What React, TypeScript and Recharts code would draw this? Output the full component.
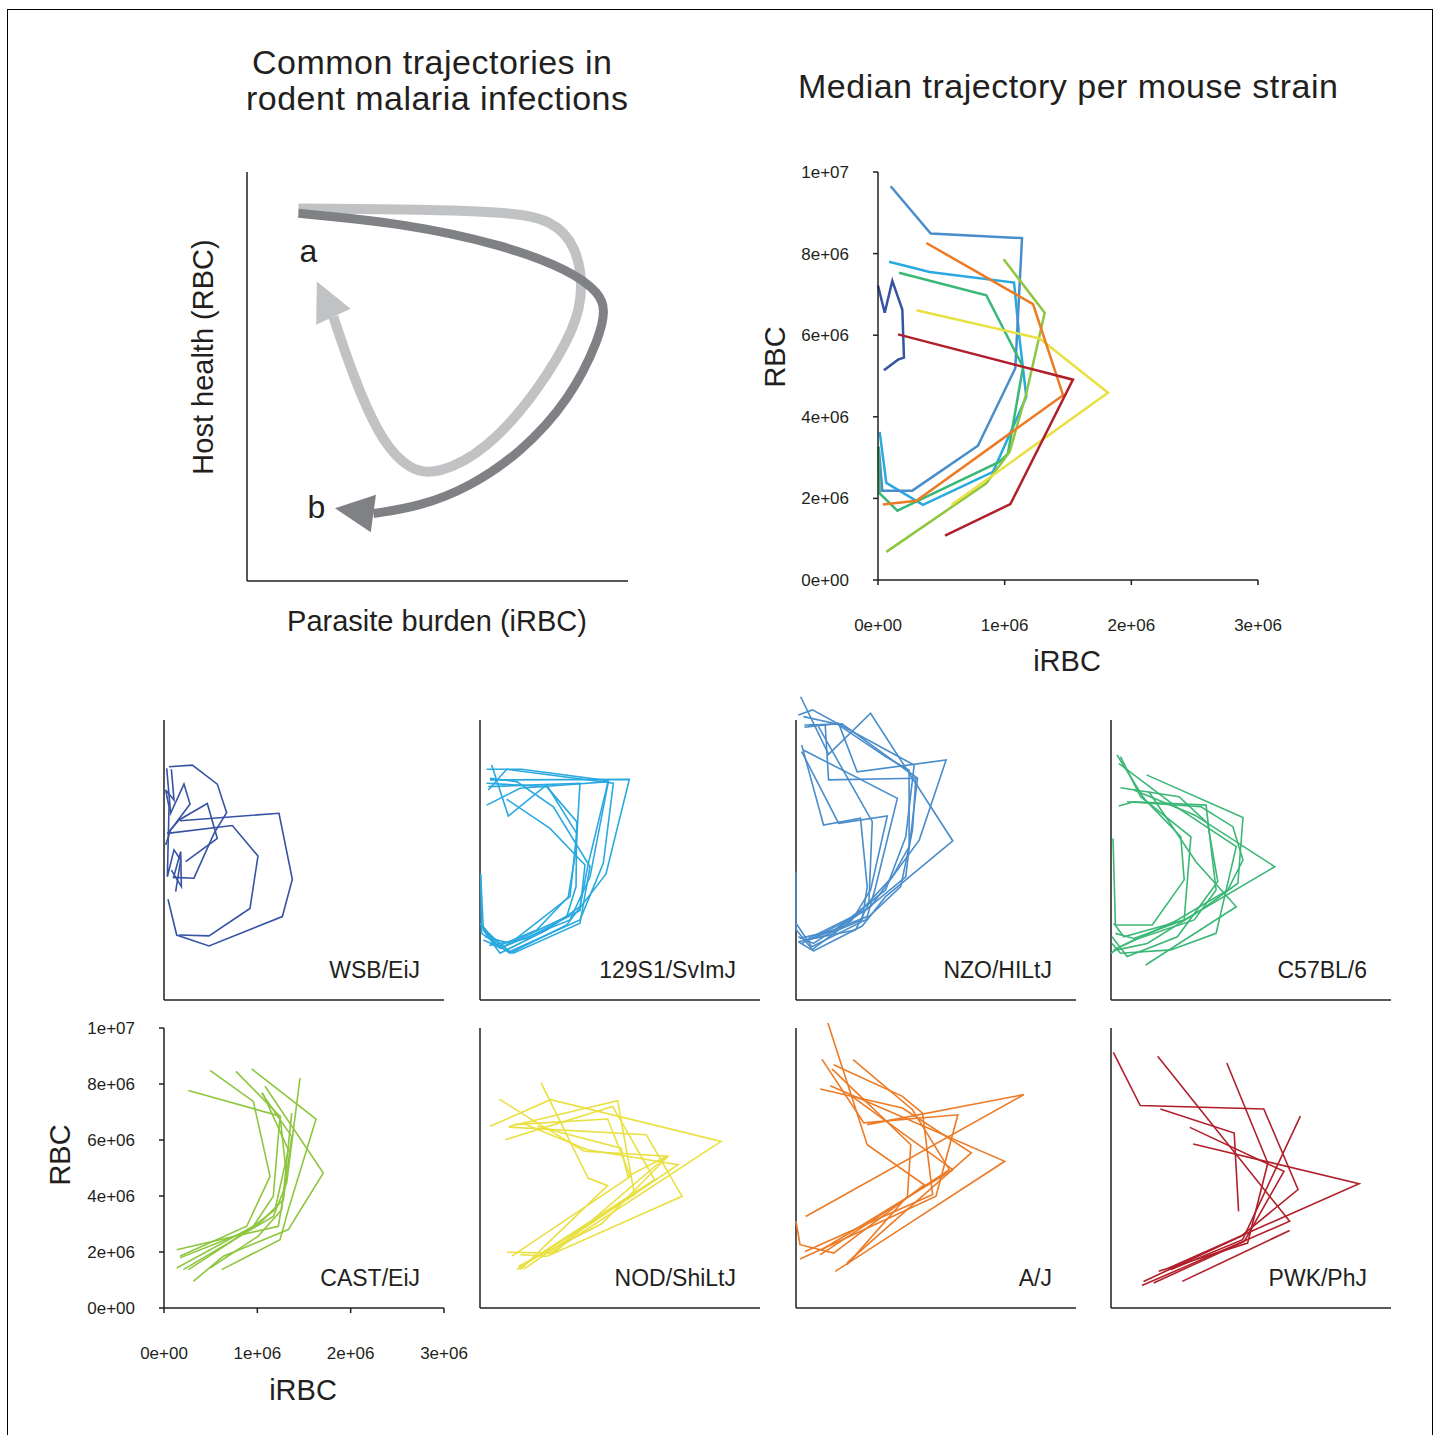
import React from "react";
import { LineChart, Line, XAxis, YAxis, ReferenceLine } from "recharts";

type Pt = [number, number];

const INK = "#231f20";
const FONT = "'Liberation Sans', Arial, Helvetica, sans-serif";

// iRBC / RBC in millions
const X_TICKS = [0, 1, 2, 3];
const Y_TICKS = [0, 2, 4, 6, 8, 10];

const C_WSB = "#3754a4";
const C_129 = "#2aa9e0";
const C_NZO = "#4a8dcb";
const C_B6 = "#3bb776";
const C_CAST = "#8ec63f";
const C_NOD = "#e9e042";
const C_AJ = "#ed7a24";
const C_PWK = "#b01f2a";

// concept sketch (arbitrary units)
const LIGHT_PATH: Pt[] = [
  [16.2, 91.1], [80.7, 90.7], [96.5, 88.3], [103.8, 81.7], [105.9, 71.9], [103.8, 62.2],
  [91.2, 45.9], [75.5, 32.0], [59.7, 25.9], [51.3, 27.1], [42.9, 33.7], [35.6, 45.9],
  [30.3, 57.3], [27.2, 64.6],
];
const LIGHT_ARROW: Pt[] = [[27.2, 64.6], [22.0, 73.2]];
const DARK_PATH: Pt[] = [
  [16.2, 89.9], [49.2, 87.5], [80.7, 82.2], [101.7, 76.0], [111.2, 70.3], [112.8, 66.3],
  [111.2, 59.7], [101.7, 44.3], [86.0, 31.2], [70.2, 23.0], [54.5, 18.2], [39.8, 16.5],
];
const DARK_ARROW: Pt[] = [[39.8, 16.5], [27.7, 17.8]];

// median trajectories
const MED_WSB: Pt[] = [[0, 7.22], [0.053, 6.55], [0.113, 7.33], [0.192, 6.63], [0.205, 5.45], [0.158, 5.4], [0.047, 5.14]];
const MED_129: Pt[] = [[0.087, 7.8], [0.408, 7.55], [1.074, 7.29], [1.113, 6.04], [1.171, 4.49], [0.908, 2.65], [0.355, 1.84], [0.066, 2.38], [0.013, 3.63]];
const MED_NZO: Pt[] = [[0.1, 9.65], [0.416, 8.49], [1.137, 8.38], [1.084, 5.19], [0.789, 3.29], [0.271, 2.19], [0.034, 2.19], [0.008, 3.18]];
const MED_B6: Pt[] = [[0.166, 7.53], [0.855, 6.98], [1.145, 5.22], [1.026, 3.1], [0.961, 2.9], [0.153, 1.7], [0.013, 2.12], [0.005, 3.27]];
const MED_CAST: Pt[] = [[0.992, 7.86], [1.316, 6.55], [1.171, 4.57], [1.039, 3.14], [0.855, 2.37], [0.066, 0.69]];
const MED_NOD: Pt[] = [[0.303, 6.61], [1.276, 5.92], [1.816, 4.59], [0.579, 1.84]];
const MED_AJ: Pt[] = [[0.382, 8.26], [1.224, 6.76], [1.461, 4.53], [0.303, 1.94], [0.039, 1.85]];
const MED_PWK: Pt[] = [[0.158, 6.02], [1.539, 4.91], [1.045, 1.86], [0.529, 1.09]];

// individual mice per strain
const WSB_TRAJ: Pt[][] = [
  [[0.171, 6.4], [1.232, 6.67], [1.375, 4.31], [1.268, 2.98], [0.482, 1.93], [0.136, 2.32], [0.043, 3.6]],
  [[0.036, 5.95], [0.732, 6.23], [1.007, 5.14], [0.921, 3.27], [0.482, 2.29], [0.161, 2.32]],
  [[0.054, 8.33], [0.304, 8.39], [0.571, 7.71], [0.671, 6.69], [0.536, 5.95], [0.321, 4.35], [0.1, 4.38]],
  [[0.029, 8.27], [0.071, 6.67], [0.214, 7.71], [0.279, 7.0], [0.071, 6.07], [0.018, 5.54]],
  [[0.232, 4.94], [0.571, 5.77], [0.464, 7.02], [0.161, 6.43], [0.036, 5.95]],
  [[0.079, 8.24], [0.107, 7.14], [0.018, 7.5], [0.054, 6.9], [0.036, 4.4], [0.107, 5.36], [0.179, 5.0], [0.125, 3.87]],
  [[0.1, 4.35], [0.179, 5.3], [0.186, 4.05], [0.079, 4.64]],
];
const S129_TRAJ: Pt[][] = [
  [[0.071, 8.24], [0.446, 8.24], [1.375, 7.83], [1.161, 4.88], [1.071, 3.33], [0.714, 2.5], [0.214, 1.67], [0.036, 2.5], [0.007, 4.46]],
  [[0.125, 8.39], [0.304, 6.57], [0.714, 7.68], [1.036, 5.95], [0.964, 3.69], [0.321, 2.02], [0.054, 2.26]],
  [[0.071, 7.74], [0.714, 7.62], [1.036, 6.37], [1.029, 4.05], [0.929, 2.98], [0.214, 1.85], [0.007, 2.74]],
  [[0.107, 7.92], [0.393, 7.8], [0.786, 6.9], [1.179, 4.76], [1.071, 2.74], [0.357, 1.67], [0.036, 2.14]],
  [[0.071, 6.96], [0.429, 7.56], [1.375, 7.8], [1.179, 4.4], [0.964, 2.86], [0.25, 1.9], [0.018, 2.62]],
  [[0.089, 7.62], [1.071, 7.74], [1.029, 5.36], [0.946, 3.69], [0.607, 2.5], [0.179, 1.9], [0, 2.74]],
  [[0.286, 7.17], [0.75, 6.13], [1.125, 4.82], [1.071, 3.2], [0.5, 2.2], [0.1, 1.95]],
  [[0.089, 7.5], [0.286, 8.24], [1.429, 7.74], [1.321, 4.88], [1.071, 2.86], [0.321, 1.73], [0.054, 2.44]],
  [[0.107, 7.86], [1.6, 7.88], [1.35, 4.5], [0.929, 2.68], [0.321, 1.67], [0.018, 2.38], [0.007, 4.52]],
];
const NZO_TRAJ: Pt[][] = [
  [[0.05, 10.83], [0.349, 8.77], [0.799, 10.24], [1.68, 5.68], [0.96, 3.69], [0.709, 2.64], [0.187, 1.75], [0, 2.52], [0, 4.58]],
  [[0.025, 10.18], [0.176, 10.36], [0.475, 9.82], [1.266, 8.39], [1.176, 5.83], [0.96, 3.93], [0.421, 2.5], [0.043, 2.2]],
  [[0.09, 9.74], [0.457, 9.88], [0.655, 8.15], [1.608, 8.57], [1.32, 5.71], [0.799, 3.33], [0.187, 2.02], [0.025, 2.26]],
  [[0.09, 9.82], [0.313, 9.82], [0.349, 7.86], [1.284, 7.92], [1.248, 6.07], [1.122, 4.05], [0.745, 2.86], [0.169, 1.9], [0, 2.74]],
  [[0.061, 9.11], [0.295, 6.25], [0.691, 6.49], [0.763, 4.05], [0.709, 2.86], [0.277, 2.26], [0.025, 2.08]],
  [[0.061, 8.87], [0.457, 6.31], [0.978, 6.57], [0.799, 3.93], [0.601, 2.86], [0.169, 1.79], [0.025, 2.08]],
  [[0.079, 8.93], [1.086, 7.2], [0.85, 4.0], [0.763, 2.98], [0.133, 2.14]],
  [[0.241, 9.76], [0.817, 6.37], [0.781, 3.45], [0.637, 2.5], [0.097, 2.14]],
  [[0.079, 10.12], [0.439, 9.86], [0.96, 8.69], [1.212, 8.21], [1.212, 5.48], [1.032, 4.4], [0.637, 2.98], [0.061, 2.02]],
  [[0.133, 9.82], [0.493, 9.86], [1.302, 7.92], [1.176, 4.4], [0.745, 3.21], [0.133, 2.2]],
];
const B6_TRAJ: Pt[][] = [
  [[0.065, 8.75], [0.353, 7.2], [0.748, 5.83], [0.784, 4.29], [0.442, 2.68], [0.047, 2.68], [0.022, 5.77]],
  [[0.083, 8.45], [0.7, 6.9], [1.342, 5.48], [1.126, 2.38], [0.64, 1.79], [0.101, 1.67], [0.011, 2.02]],
  [[0.381, 8.04], [1.414, 6.52], [1.36, 4.17], [0.964, 3.21], [0.388, 2.02], [0.065, 1.79]],
  [[0.101, 7.58], [0.73, 7.26], [1.036, 6.31], [1.144, 4.23], [0.712, 2.26], [0.173, 1.55], [0.011, 2.26]],
  [[0.083, 6.93], [0.245, 7.08], [1.018, 6.96], [1.126, 3.93], [0.892, 2.86], [0.245, 2.14], [0.029, 1.79]],
  [[0.173, 7.08], [0.964, 6.9], [1.306, 6.19], [1.414, 5.0], [1.252, 3.93], [0.712, 2.86], [0.101, 1.9], [0, 1.67]],
  [[0.406, 7.44], [0.91, 4.94], [1.342, 3.33], [0.371, 1.25]],
  [[0.245, 7.5], [0.9, 6.6], [1.755, 4.76], [0.784, 2.86], [0.245, 2.2], [0.047, 2.38]],
  [[0.101, 8.69], [0.317, 7.26], [0.856, 5.83], [0.784, 2.86], [0.137, 2.26], [0.029, 2.74]],
];
const CAST_TRAJ: Pt[][] = [
  [[0.261, 7.77], [1.243, 6.85], [1.314, 4.7], [1.225, 2.92], [0.136, 2.08]],
  [[0.493, 8.49], [0.957, 7.38], [1.136, 4.7], [0.886, 2.92], [0.171, 1.85]],
  [[0.771, 8.45], [1.243, 6.85], [1.171, 3.99], [0.957, 2.92], [0.136, 1.43]],
  [[0.939, 8.54], [1.629, 6.75], [1.332, 3.51], [1.243, 2.44], [0.618, 1.37]],
  [[1.046, 7.68], [1.368, 6.13], [1.279, 3.87], [1.029, 3.04], [0.261, 1.37]],
  [[1.082, 7.92], [1.707, 4.82], [1.332, 2.8], [0.636, 1.85], [0.314, 0.95]],
  [[1.457, 8.21], [1.314, 4.46], [1.171, 3.27], [0.207, 1.37]],
  [[1.368, 6.96], [1.261, 3.51], [1.007, 2.56], [0.493, 1.43]],
  [[1.057, 7.68], [1.332, 5.65], [1.189, 3.51], [0.886, 2.74], [0.171, 1.79]],
];
const NOD_TRAJ: Pt[][] = [
  [[0.655, 8.04], [1.158, 4.64], [1.367, 4.37], [0.432, 1.37]],
  [[0.205, 7.46], [0.612, 6.61], [1.115, 5.6], [2.014, 5.42], [1.3, 3.0], [0.414, 1.49]],
  [[0.108, 6.49], [0.755, 7.44], [2.583, 5.95], [0.755, 1.96], [0.288, 1.99]],
  [[0.317, 6.49], [1.475, 7.4], [1.655, 4.05], [0.396, 1.37]],
  [[0.27, 6.01], [1.421, 7.2], [1.871, 4.58], [0.414, 1.43]],
  [[0.36, 6.55], [1.367, 6.75], [1.612, 4.7], [0.342, 1.85]],
  [[0.306, 6.46], [1.781, 6.19], [2.165, 3.99], [0.719, 1.85], [0.432, 1.9]],
  [[0.45, 6.61], [1.151, 5.65], [2.122, 5.12], [0.468, 1.39]],
  [[0.612, 6.49], [1.511, 5.71], [1.583, 4.7], [2.0, 5.42], [0.791, 1.96]],
];
const AJ_TRAJ: Pt[][] = [
  [[0.342, 10.18], [0.763, 5.83], [1.374, 4.4], [0.403, 1.96], [0.043, 2.26], [0, 3.1]],
  [[0.277, 8.89], [0.727, 6.61], [1.734, 6.9], [1.5, 3.99], [0.421, 2.32], [0.043, 1.75]],
  [[0.403, 8.69], [1.14, 7.56], [1.356, 6.96], [1.464, 4.05], [0.097, 2.02]],
  [[0.612, 8.87], [1.248, 7.08], [1.644, 4.94], [0.259, 1.9]],
  [[0.259, 7.82], [1.14, 7.14], [1.878, 5.54], [0.547, 1.61]],
  [[0.367, 7.94], [2.237, 5.24], [1.14, 2.86], [0.421, 1.31]],
  [[0.385, 8.54], [1.23, 5.83], [1.194, 3.99], [0.547, 1.55]],
  [[0.763, 6.55], [2.442, 7.62], [0.104, 3.27]],
  [[0.6, 7.56], [1.68, 4.94], [0.277, 2.08]],
];
const PWK_TRAJ: Pt[][] = [
  [[0.025, 9.13], [0.313, 7.23], [1.637, 7.11], [2.004, 4.23], [1.392, 2.56], [0.349, 0.95]],
  [[0.5, 8.99], [1.914, 3.1], [0.331, 0.8]],
  [[1.241, 8.75], [1.68, 5.18], [1.464, 2.32], [0.511, 1.31]],
  [[0.529, 7.11], [1.32, 6.25], [1.367, 3.45]],
  [[0.845, 6.45], [1.853, 4.88], [1.428, 2.38], [0.457, 0.89]],
  [[0.881, 5.86], [2.658, 4.44], [0.619, 1.43]],
  [[2.029, 6.85], [1.41, 2.44], [0.637, 1.37]],
  [[1.914, 2.77], [0.763, 0.95]],
];

const toRows = (pts: Pt[]) => pts.map(([x, y]) => ({ x, y }));

/* R-style scientific labels, values given in millions */
const sci = (v: number) => {
  if (v === 0) return "0e+00";
  const val = v * 1e6;
  const e = Math.floor(Math.log10(val) + 1e-9);
  const m = Math.round(val / Math.pow(10, e));
  return `${m}e+${String(e).padStart(2, "0")}`;
};

const TICK = { fontSize: 17, fill: INK, fontFamily: FONT };
const AXIS_LINE = { stroke: INK, strokeWidth: 1.5 };

function arrowHead(color: string, halfW: number) {
  let base: { x: number; y: number } | null = null;
  return (p: any) => {
    const { cx, cy, index } = p;
    if (index === 0) {
      base = { x: cx, y: cy };
      return <g key={`a${index}`} />;
    }
    if (!base) return <g key={`a${index}`} />;
    const dx = cx - base.x;
    const dy = cy - base.y;
    const len = Math.hypot(dx, dy) || 1;
    const nx = (-dy / len) * halfW;
    const ny = (dx / len) * halfW;
    const d = `M${cx},${cy}L${base.x + nx},${base.y + ny}L${base.x - nx},${base.y - ny}Z`;
    return <path key={`a${index}`} d={d} fill={color} />;
  };
}

function Concept() {
  // mirrored axes take no room, so the margins place the plot at x 247..628, y 172..581
  return (
    <div style={{ position: "absolute", left: 217, top: 162 }}>
      <LineChart width={431} height={439} margin={{ top: 10, right: 20, bottom: 20, left: 30 }}>
        <XAxis type="number" dataKey="x" domain={[0, 120]} ticks={[20, 40, 60, 80, 100]}
          tick={false} mirror tickSize={3} height={20} axisLine={AXIS_LINE} tickLine={{ stroke: INK }} />
        <YAxis type="number" domain={[0, 100]} ticks={[20, 40, 60, 80]} tick={false} mirror
          tickSize={3} width={30} axisLine={AXIS_LINE} tickLine={{ stroke: INK }} />
        <Line data={toRows(LIGHT_PATH)} dataKey="y" type="basis" stroke="#c1c2c4" strokeWidth={10}
          dot={false} isAnimationActive={false} strokeLinecap="butt" />
        <Line data={toRows(LIGHT_ARROW)} dataKey="y" type="linear" stroke="none"
          dot={arrowHead("#c1c2c4", 19)} isAnimationActive={false} />
        <Line data={toRows(DARK_PATH)} dataKey="y" type="basis" stroke="#808184" strokeWidth={9}
          dot={false} isAnimationActive={false} strokeLinecap="butt" />
        <Line data={toRows(DARK_ARROW)} dataKey="y" type="linear" stroke="none"
          dot={arrowHead("#808184", 19)} isAnimationActive={false} />
      </LineChart>
    </div>
  );
}

const MEDIANS: { pts: Pt[]; color: string }[] = [
  { pts: MED_WSB, color: C_WSB },
  { pts: MED_129, color: C_129 },
  { pts: MED_NZO, color: C_NZO },
  { pts: MED_B6, color: C_B6 },
  { pts: MED_CAST, color: C_CAST },
  { pts: MED_NOD, color: C_NOD },
  { pts: MED_AJ, color: C_AJ },
  { pts: MED_PWK, color: C_PWK },
];

function Medians() {
  return (
    <div style={{ position: "absolute", left: 778, top: 162 }}>
      <LineChart width={540} height={488} margin={{ top: 10, right: 60, bottom: 0, left: 0 }}>
        <XAxis type="number" dataKey="x" domain={[0, 3]} ticks={X_TICKS} tickFormatter={sci}
          height={70} tick={TICK} tickSize={5} tickMargin={34} axisLine={AXIS_LINE} tickLine={AXIS_LINE} />
        <YAxis type="number" domain={[0, 10]} ticks={Y_TICKS} tickFormatter={sci}
          width={100} tick={TICK} tickSize={5} tickMargin={24} axisLine={AXIS_LINE} tickLine={AXIS_LINE} />
        {MEDIANS.map((m, i) => (
          <Line key={i} data={toRows(m.pts)} dataKey="y" type="linear" stroke={m.color}
            strokeWidth={2.5} dot={false} isAnimationActive={false} />
        ))}
      </LineChart>
    </div>
  );
}

const PANELS: { name: string; color: string; traj: Pt[][] }[] = [
  { name: "WSB/EiJ", color: C_WSB, traj: WSB_TRAJ },
  { name: "129S1/SvImJ", color: C_129, traj: S129_TRAJ },
  { name: "NZO/HILtJ", color: C_NZO, traj: NZO_TRAJ },
  { name: "C57BL/6", color: C_B6, traj: B6_TRAJ },
  { name: "CAST/EiJ", color: C_CAST, traj: CAST_TRAJ },
  { name: "NOD/ShiLtJ", color: C_NOD, traj: NOD_TRAJ },
  { name: "A/J", color: C_AJ, traj: AJ_TRAJ },
  { name: "PWK/PhJ", color: C_PWK, traj: PWK_TRAJ },
];
const COL_X = [164, 480, 796, 1111];
const ROW_ZERO = [1000, 1308];

function Panel({ traj, color, axisX, zeroY, labels }: {
  traj: Pt[][]; color: string; axisX: number; zeroY: number; labels: boolean;
}) {
  // 11 units of 28px so lines may run above the 1e+07 tick
  return (
    <div style={{ position: "absolute", left: axisX - 100, top: zeroY - 308 - 5 }}>
      <LineChart width={430} height={383} margin={{ top: 5, right: 50, bottom: 0, left: 0 }}>
        <XAxis type="number" dataKey="x" domain={[0, 3]} ticks={X_TICKS} tickFormatter={sci}
          height={70} tick={labels ? TICK : false} tickSize={5} tickMargin={34}
          axisLine={AXIS_LINE} tickLine={AXIS_LINE} />
        <YAxis type="number" domain={[0, 11]} ticks={Y_TICKS} tickFormatter={sci}
          width={100} tick={labels ? TICK : false} tickSize={5} tickMargin={24}
          axisLine={false} tickLine={AXIS_LINE} />
        <ReferenceLine segment={[{ x: 0, y: 0 }, { x: 0, y: 10 }]} stroke={INK} strokeWidth={1.5} />
        {traj.map((t, i) => (
          <Line key={i} data={toRows(t)} dataKey="y" type="linear" stroke={color}
            strokeWidth={1.6} dot={false} isAnimationActive={false} />
        ))}
      </LineChart>
    </div>
  );
}

function Texts() {
  const t = { fontFamily: FONT, fill: INK };
  return (
    <svg width={1437} height={1435} style={{ position: "absolute", left: 0, top: 0, pointerEvents: "none" }}>
      <g {...t}>
        <text x={432} y={74} fontSize={34} textAnchor="middle" textLength={360}>Common trajectories in</text>
        <text x={437} y={110} fontSize={34} textAnchor="middle" textLength={382}>rodent malaria infections</text>
        <text x={1068} y={98} fontSize={34} textAnchor="middle" textLength={540}>Median trajectory per mouse strain</text>
        <text transform="translate(213,357) rotate(-90)" fontSize={29} textAnchor="middle">Host health (RBC)</text>
        <text x={437} y={631} fontSize={29} textAnchor="middle">Parasite burden (iRBC)</text>
        <text x={308.5} y={262} fontSize={32} textAnchor="middle">a</text>
        <text x={316.5} y={518} fontSize={32} textAnchor="middle">b</text>
        <text transform="translate(785,357) rotate(-90)" fontSize={29} textAnchor="middle">RBC</text>
        <text x={1067} y={671} fontSize={29} textAnchor="middle">iRBC</text>
        <text transform="translate(70,1155) rotate(-90)" fontSize={29} textAnchor="middle">RBC</text>
        <text x={303} y={1400} fontSize={29} textAnchor="middle">iRBC</text>
        {PANELS.map((p, i) => (
          <text key={p.name} x={COL_X[i % 4] + 256} y={ROW_ZERO[Math.floor(i / 4)] - 22}
            fontSize={23} textAnchor="end">{p.name}</text>
        ))}
      </g>
    </svg>
  );
}

export default function App() {
  return (
    <div style={{ position: "absolute", left: 0, top: 0, width: 1437, height: 1435, overflow: "hidden", background: "#fff" }}>
      <div style={{ position: "absolute", left: 7, top: 9, width: 1426, height: 1460, border: "1px solid #000", boxSizing: "border-box" }} />
      <Concept />
      <Medians />
      {PANELS.map((p, i) => (
        <Panel key={p.name} traj={p.traj} color={p.color} axisX={COL_X[i % 4]}
          zeroY={ROW_ZERO[Math.floor(i / 4)]} labels={i === 4} />
      ))}
      <Texts />
    </div>
  );
}
